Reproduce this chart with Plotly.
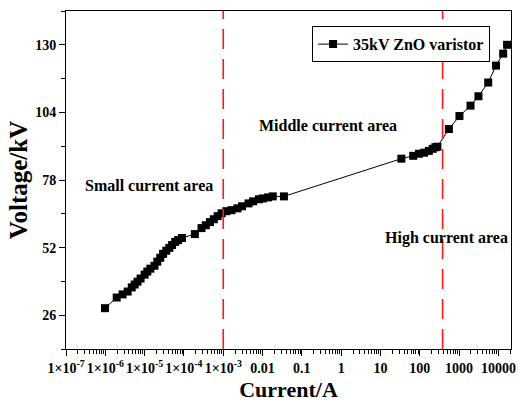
import plotly.graph_objects as go

# Measured V-I characteristic of a 35 kV ZnO varistor
current_a = [
    9.8e-7, 1.95e-6, 2.75e-6, 3.7e-6, 4.7e-6, 5.6e-6, 6.6e-6, 7.9e-6, 1.0e-5,
    1.17e-5, 1.4e-5, 1.78e-5, 2.1e-5, 2.5e-5, 2.95e-5, 3.55e-5, 4.25e-5,
    5.0e-5, 6.0e-5, 7.1e-5, 8.9e-5, 1.9e-4, 2.8e-4, 3.6e-4, 4.6e-4, 5.75e-4,
    7.2e-4, 9.1e-4, 1.2e-3, 1.62e-3, 2.3e-3, 3.0e-3, 4.4e-3, 5.75e-3, 8.1e-3,
    1.02e-2, 1.38e-2, 1.82e-2, 3.5e-2,
    34.0, 68.0, 95.0, 129.0, 170.0, 214.0, 250.0, 280.0,
    550.0, 1020.0, 1950.0, 3100.0, 5500.0, 8700.0, 13200.0, 16600.0,
]
voltage_kv = [
    28.7, 32.8, 34.0, 35.1, 36.7, 37.8, 38.9, 40.1, 41.6,
    42.8, 43.9, 45.0, 46.6, 48.1, 49.6, 50.8, 51.9,
    53.0, 54.2, 54.9, 55.7, 57.2, 59.5, 60.6, 61.8, 62.9,
    64.1, 65.2, 66.0, 66.4, 67.1, 67.9, 69.0, 69.8, 70.6,
    70.9, 71.3, 71.7, 71.7,
    86.2, 87.3, 88.1, 88.5, 89.2, 90.0, 90.6, 90.8,
    97.6, 102.6, 106.6, 110.2, 115.5, 122.0, 126.6, 130.0,
]
series_name = "35kV ZnO varistor"

# Boundaries between the current regions (A)
area_bounds = [1e-3, 380.0]
area_labels = ["Small current area", "Middle current area", "High current area"]
area_label_pos = [(-4.88, 75.9), (-0.33, 99.1), (2.69, 55.7)]

# Axis ticks
x_tick_vals = [1e-7, 1e-6, 1e-5, 1e-4, 1e-3, 1e-2, 1e-1, 1, 10, 100, 1000, 10000]
x_tick_text = ["1×10<sup>-7</sup>", "1×10<sup>-6</sup>", "1×10<sup>-5</sup>",
               "1×10<sup>-4</sup>", "1×10<sup>-3</sup>", "0.01", "0.1", "1",
               "10", "100", "1000", "10000"]
x_minor_vals = [m * 10.0 ** e for e in range(-7, 5) for m in range(2, 10)]
y_tick_vals = [26, 52, 78, 104, 130]
y_minor_vals = [13, 39, 65, 91, 117, 143]

SERIF = "Liberation Serif, Times New Roman, serif"

fig = go.Figure()
fig.add_trace(go.Scatter(
    x=current_a, y=voltage_kv, name=series_name, mode="lines+markers",
    line=dict(color="black", width=1),
    marker=dict(symbol="square", size=8, color="black"),
))

for xb in area_bounds:
    fig.add_shape(type="line", xref="x", yref="paper", x0=xb, x1=xb, y0=0, y1=1,
                  line=dict(color="#ff1a1a", width=1.6, dash="20px,10px"))

for text, (ax, ay) in zip(area_labels, area_label_pos):
    fig.add_annotation(x=ax, y=ay, xref="x", yref="y", text=f"<b>{text}</b>",
                       showarrow=False, font=dict(family=SERIF, size=16, color="black"))

fig.update_layout(
    width=523, height=404,
    margin=dict(l=66, r=7, t=11, b=53),
    paper_bgcolor="white", plot_bgcolor="white",
    font=dict(family=SERIF, color="black"),
    showlegend=True,
    legend=dict(x=0.553, y=0.955, xanchor="left", yanchor="top",
                bordercolor="black", borderwidth=1, bgcolor="white",
                font=dict(family=SERIF, size=16, color="black", weight="bold"),
                itemwidth=30, tracegroupgap=0),
)

fig.update_xaxes(
    type="log", range=[-7, 4.32],
    tickmode="array", tickvals=x_tick_vals, ticktext=x_tick_text,
    tickfont=dict(family=SERIF, size=14, weight="bold"),
    ticks="outside", ticklen=6, tickwidth=1, tickcolor="black",
    minor=dict(tickmode="array", tickvals=x_minor_vals, ticks="outside",
               ticklen=4, tickwidth=1, tickcolor="black", showgrid=False),
    showline=True, linecolor="black", linewidth=1, mirror=True,
    showgrid=False, zeroline=False,
    title=dict(text="Current/A", font=dict(family=SERIF, size=22, weight="bold"), standoff=6),
)
fig.update_yaxes(
    range=[13, 143],
    tickmode="array", tickvals=y_tick_vals,
    tickfont=dict(family=SERIF, size=14, weight="bold"),
    ticks="outside", ticklen=6, tickwidth=1, tickcolor="black",
    minor=dict(tickmode="array", tickvals=y_minor_vals, ticks="outside",
               ticklen=4, tickwidth=1, tickcolor="black", showgrid=False),
    showline=True, linecolor="black", linewidth=1, mirror=True,
    showgrid=False, zeroline=False,
    title=dict(text="Voltage/kV", font=dict(family=SERIF, size=25, weight="bold"), standoff=0),
)

fig.write_html("out.html")
